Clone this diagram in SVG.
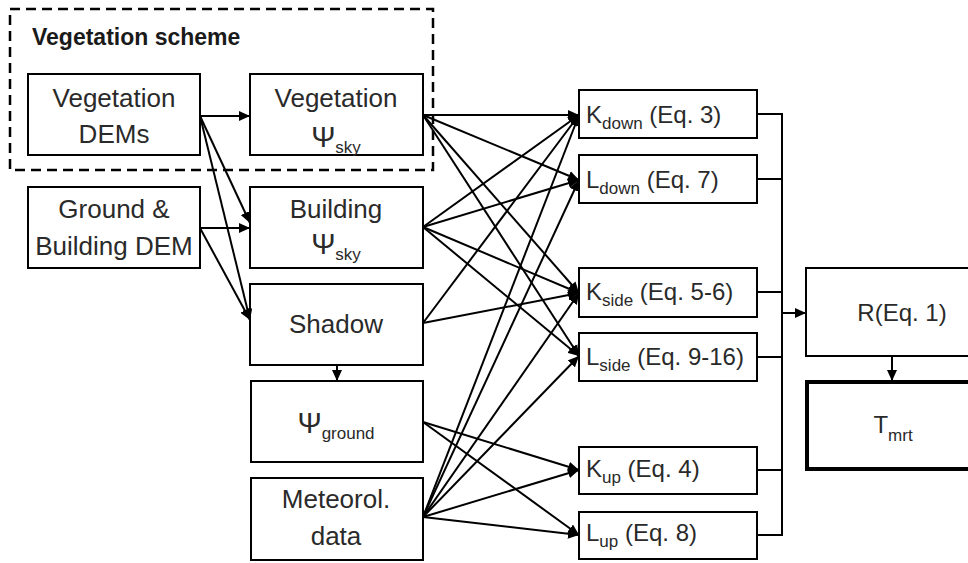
<svg xmlns="http://www.w3.org/2000/svg" width="968" height="563" viewBox="0 0 968 563">
<defs>
<marker id="ah" markerUnits="userSpaceOnUse" markerWidth="12" markerHeight="10" refX="11" refY="5" orient="auto">
<path d="M0,0 L11,5 L0,10 z" fill="#000"/>
</marker>
<style>
.box{fill:#fff;stroke:#000;stroke-width:2}
.thick{fill:#fff;stroke:#000;stroke-width:4}
.t{font-family:"Liberation Sans",Arial,sans-serif;font-size:26px;fill:#2a2a2a;text-anchor:middle}
.r{font-family:"Liberation Sans",Arial,sans-serif;font-size:24px;fill:#2a2a2a}
.sub{font-size:17px}
.psi{font-size:29px}
.c line,.c path{stroke:#000;stroke-width:2;fill:none}
.a{marker-end:url(#ah)}
</style>
</defs>
<rect width="968" height="563" fill="#fff"/>

<g id="vegetation-scheme">
<rect x="10" y="9" width="423" height="161" fill="none" stroke="#000" stroke-width="2.5" stroke-dasharray="10,6"/>
<text x="32" y="45" style="font-family:'Liberation Sans',Arial,sans-serif;font-size:23px;font-weight:bold;fill:#1a1a1a">Vegetation scheme</text>
</g>

<g id="veg-dems"><rect class="box" x="28" y="74" width="172" height="81"/>
<text class="t" x="114" y="107">Vegetation</text><text class="t" x="114" y="143">DEMs</text></g>

<g id="ground-dem"><rect class="box" x="28" y="187" width="172" height="81"/>
<text class="t" x="114" y="218">Ground &amp;</text><text class="t" x="114" y="255">Building DEM</text></g>

<g id="veg-psi"><rect class="box" x="250" y="74" width="173" height="81"/>
<text class="t" x="336" y="107">Vegetation</text>
<text class="t" x="336" y="147"><tspan class="psi">Ψ</tspan><tspan class="sub" dy="6">sky</tspan></text></g>

<g id="bld-psi"><rect class="box" x="250" y="187" width="173" height="81"/>
<text class="t" x="336" y="218">Building</text>
<text class="t" x="336" y="254"><tspan class="psi">Ψ</tspan><tspan class="sub" dy="6">sky</tspan></text></g>

<g id="shadow"><rect class="box" x="250" y="284" width="173" height="81"/>
<text class="t" x="336" y="333">Shadow</text></g>

<g id="psi-ground"><rect class="box" x="251" y="381" width="172" height="81"/>
<text class="t" x="336" y="433"><tspan class="psi">Ψ</tspan><tspan class="sub" dy="6">ground</tspan></text></g>

<g id="meteo"><rect class="box" x="251" y="478" width="172" height="82"/>
<text class="t" x="336" y="508">Meteorol.</text><text class="t" x="336" y="545">data</text></g>

<g id="k-down"><rect class="box" x="579" y="90" width="178" height="48"/>
<text class="r" x="586" y="123">K<tspan class="sub" dy="6">down</tspan><tspan dy="-6"> (Eq. 3)</tspan></text></g>
<g id="l-down"><rect class="box" x="579" y="155" width="178" height="48"/>
<text class="r" x="586" y="188">L<tspan class="sub" dy="6">down</tspan><tspan dy="-6"> (Eq. 7)</tspan></text></g>
<g id="k-side"><rect class="box" x="579" y="268" width="178" height="49"/>
<text class="r" x="586" y="300">K<tspan class="sub" dy="6">side</tspan><tspan dy="-6"> (Eq. 5-6)</tspan></text></g>
<g id="l-side"><rect class="box" x="579" y="333" width="178" height="48"/>
<text class="r" x="586" y="365">L<tspan class="sub" dy="6">side</tspan><tspan dy="-6"> (Eq. 9-16)</tspan></text></g>
<g id="k-up"><rect class="box" x="579" y="447" width="178" height="47"/>
<text class="r" x="586" y="477">K<tspan class="sub" dy="6">up</tspan><tspan dy="-6"> (Eq. 4)</tspan></text></g>
<g id="l-up"><rect class="box" x="579" y="512" width="178" height="47"/>
<text class="r" x="586" y="541">L<tspan class="sub" dy="6">up</tspan><tspan dy="-6"> (Eq. 8)</tspan></text></g>

<g id="r-eq1"><rect class="box" x="806" y="268" width="180" height="88"/>
<text class="r" x="902" y="321" text-anchor="middle">R(Eq. 1)</text></g>
<g id="tmrt"><rect class="thick" x="807" y="382" width="180" height="87"/>
<text class="r" x="893" y="433" text-anchor="middle">T<tspan class="sub" dy="8">mrt</tspan></text></g>

<g id="connectors" class="c">
<line class="a" x1="200" y1="116" x2="250" y2="116"/>
<line class="a" x1="200" y1="116" x2="250" y2="223"/>
<line class="a" x1="200" y1="116" x2="250" y2="320"/>
<line class="a" x1="200" y1="228" x2="250" y2="228"/>
<line class="a" x1="200" y1="228" x2="250" y2="320"/>
<line class="a" x1="337" y1="365" x2="337" y2="381"/>

<line class="a" x1="423" y1="115" x2="579" y2="115"/>
<line class="a" x1="423" y1="115" x2="579" y2="180"/>
<line class="a" x1="423" y1="115" x2="579" y2="293"/>
<line class="a" x1="423" y1="115" x2="579" y2="356"/>

<line class="a" x1="423" y1="227" x2="579" y2="115"/>
<line class="a" x1="423" y1="227" x2="579" y2="180"/>
<line class="a" x1="423" y1="227" x2="579" y2="293"/>
<line class="a" x1="423" y1="227" x2="579" y2="356"/>

<line class="a" x1="423" y1="323" x2="579" y2="115"/>
<line class="a" x1="423" y1="323" x2="579" y2="293"/>

<line class="a" x1="423" y1="422" x2="579" y2="470"/>
<line class="a" x1="423" y1="422" x2="579" y2="535"/>

<line class="a" x1="423" y1="517" x2="579" y2="115"/>
<line class="a" x1="423" y1="517" x2="579" y2="180"/>
<line class="a" x1="423" y1="517" x2="579" y2="293"/>
<line class="a" x1="423" y1="517" x2="579" y2="356"/>
<line class="a" x1="423" y1="517" x2="579" y2="470"/>
<line class="a" x1="423" y1="517" x2="579" y2="535"/>

<path d="M757,114 H782 M757,179 H782 M757,292 H782 M757,357 H782 M757,470 H782 M757,535 H782 M782,113 V536"/>
<line class="a" x1="782" y1="313" x2="806" y2="313"/>
<line class="a" x1="892" y1="356" x2="892" y2="381"/>
</g>
</svg>
